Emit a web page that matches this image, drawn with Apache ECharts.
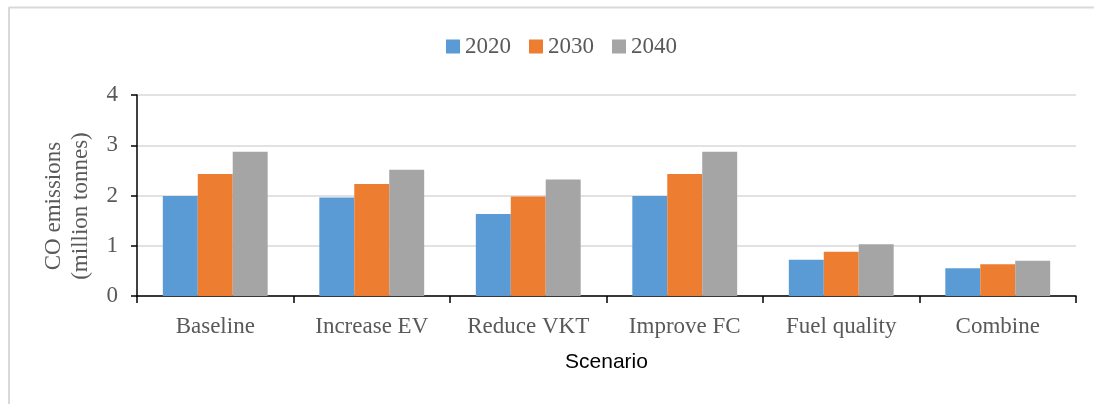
<!DOCTYPE html>
<html><head><meta charset="utf-8">
<script src="https://cdn.jsdelivr.net/npm/echarts@6/dist/echarts.min.js"></script>
<style>html,body{margin:0;padding:0;background:#fff}#c{width:1094px;height:404px}</style>
</head><body><div id="c"></div>
<script>
const categories = ['Baseline', 'Increase EV', 'Reduce VKT', 'Improve FC', 'Fuel quality', 'Combine'];
const seriesNames = ['2020', '2030', '2040'];
const v2020 = [1.99, 1.96, 1.63, 1.99, 0.72, 0.55];
const v2030 = [2.43, 2.23, 1.98, 2.43, 0.88, 0.63];
const v2040 = [2.87, 2.51, 2.32, 2.87, 1.03, 0.70];
const yTicks = [0, 1, 2, 3, 4];
const colors = ['#5B9BD5', '#ED7D31', '#A5A5A5'];
const serif = '"Liberation Serif", "DejaVu Serif", serif';
const chart = echarts.init(document.getElementById('c'), null, {renderer: 'canvas'});
const vals = [v2020, v2030, v2040];
chart.setOption({
  animation: false,
  color: colors,
  legend: {
    top: 30, left: 441, itemWidth: 14, itemHeight: 14, itemGap: 18,
    icon: 'rect',
    textStyle: {fontFamily: serif, fontSize: 23, color: '#595959', padding: [2, 0, 0, 0]},
    data: seriesNames
  },
  grid: {left: 137, right: 18, top: 95, bottom: 108, containLabel: false},
  xAxis: {
    type: 'category', data: categories,
    name: 'Scenario', nameLocation: 'middle', nameGap: 56,
    nameTextStyle: {fontFamily: '"Liberation Sans", Arial, sans-serif', fontSize: 21, color: '#000'},
    axisLine: {lineStyle: {color: '#000', width: 1.5}},
    axisTick: {show: true, length: 7, interval: 0, lineStyle: {color: '#000', width: 1.5}},
    axisLabel: {fontFamily: serif, fontSize: 23, color: '#595959', margin: 19, interval: 0}
  },
  yAxis: {
    type: 'value', min: yTicks[0], max: yTicks[yTicks.length - 1], interval: 1,
    axisLine: {show: true, lineStyle: {color: '#000', width: 1.5}},
    axisTick: {show: true, length: 6, lineStyle: {color: '#000', width: 1.5}},
    axisLabel: {fontFamily: serif, fontSize: 23, color: '#595959', margin: 19},
    splitLine: {lineStyle: {color: '#D9D9D9', width: 1.5}}
  },
  graphic: [
    {type: 'line', shape: {x1: 9, y1: 7.5, x2: 1094, y2: 7.5}, style: {stroke: '#D9D9D9', lineWidth: 2}},
    {type: 'line', shape: {x1: 9, y1: 7, x2: 9, y2: 404}, style: {stroke: '#D9D9D9', lineWidth: 2}},
    {type: 'text', x: 67, y: 206, rotation: Math.PI / 2,
     style: {text: 'CO emissions\n(million tonnes)', fontFamily: serif, fontSize: 23, fill: '#595959',
             align: 'center', verticalAlign: 'middle', lineHeight: 27}}
  ],
  series: seriesNames.map((n, i) => ({
    name: n, type: 'bar', data: vals[i], barGap: '0%', barCategoryGap: '33%',
    itemStyle: {color: colors[i]}
  }))
});
</script></body></html>
